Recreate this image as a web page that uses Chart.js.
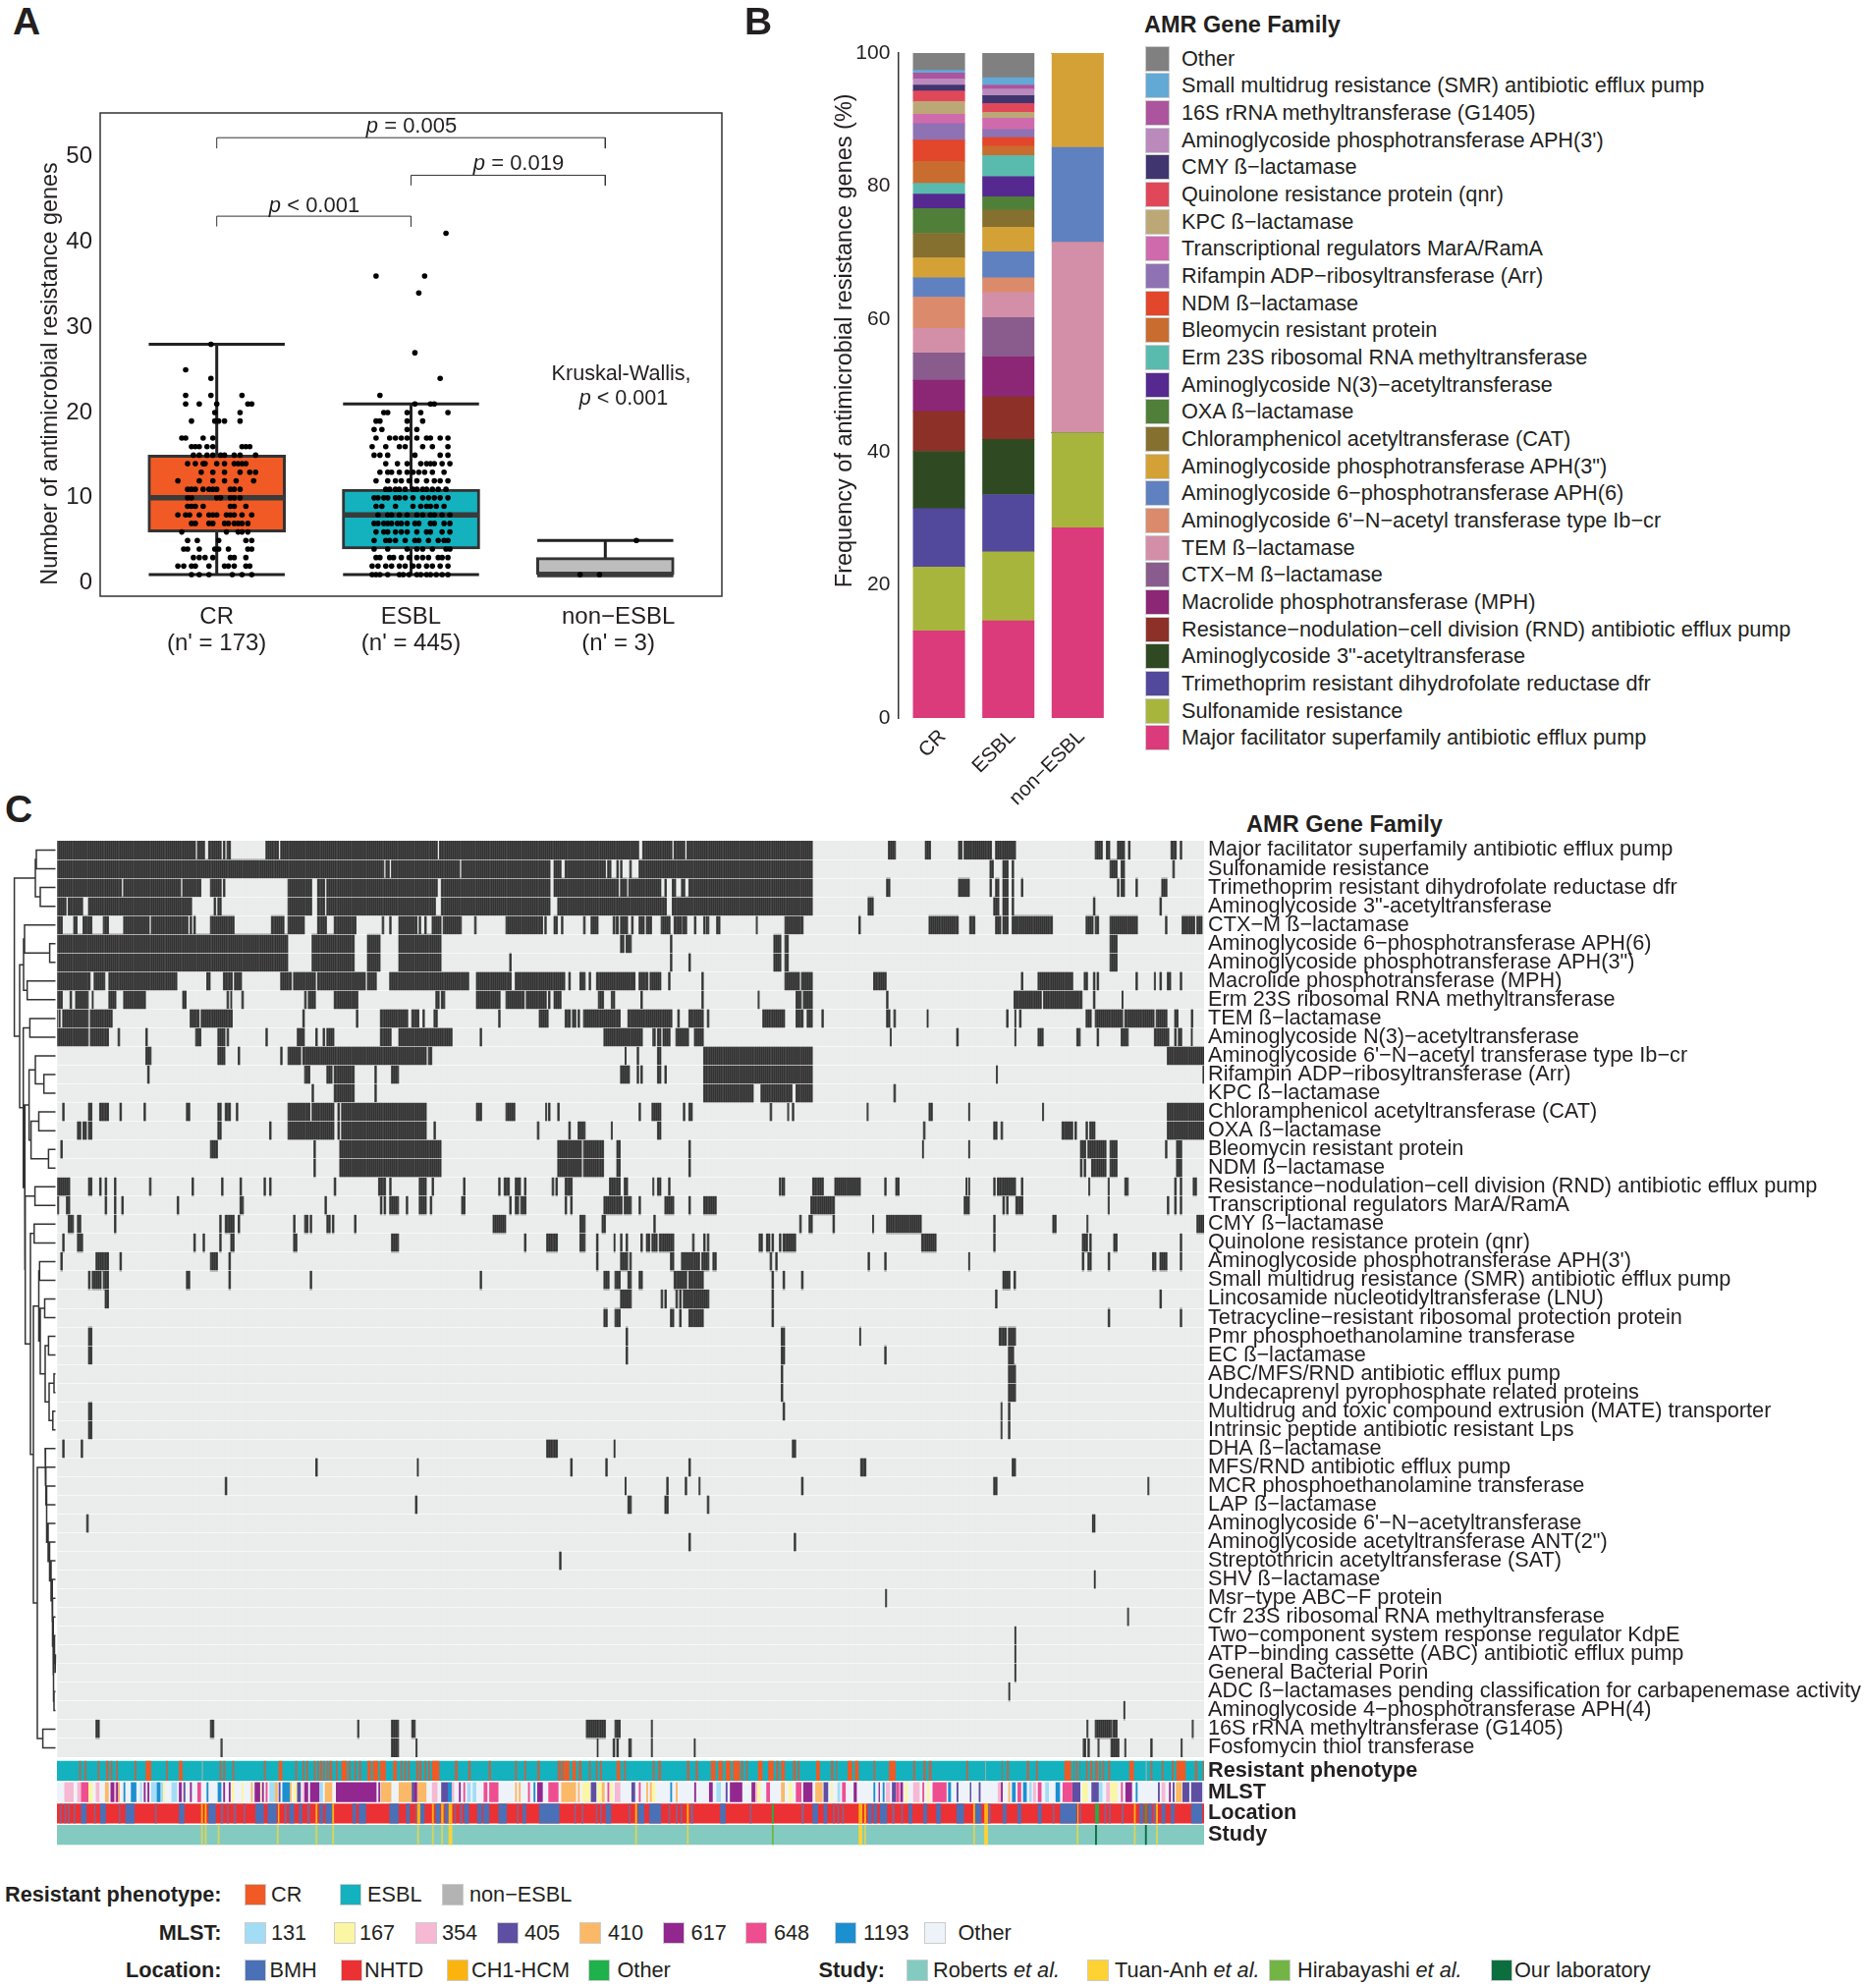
<!DOCTYPE html>
<html><head><meta charset="utf-8">
<script src="https://cdn.jsdelivr.net/npm/chart.js@4/dist/chart.umd.js"></script>
<style>
html,body{margin:0;padding:0;background:#fff;width:1902px;height:2024px;overflow:hidden;font-family:"Liberation Sans",Arial,sans-serif;color:#231f20}
canvas{position:absolute;display:block}
.t{position:absolute;white-space:nowrap;line-height:1}
.sw{position:absolute;box-sizing:border-box;border:1px solid #ccc}
</style></head><body>
<script>
/* ---------- Panel A data ---------- */
const phenotypes=["CR","ESBL","non\u2212ESBL"];
const phenotypeCounts=["(n' = 173)","(n' = 445)","(n' = 3)"];
const boxLow=[6,4,1], boxHigh=[15,11,3], boxMedian=[10,8,1], whiskerLow=[1,1,1], whiskerHigh=[28,21,5];
const boxColors=["#F15A24","#13B2BE","#BDBDBD"];
const dotsCR=[[28,[-3]],[25,[-16]],[24,[-3]],[22,[-16,-3,13]],[21,[-16,-9,0,16,18]],[20,[-1,12]],[19,[-13,-1,1,4,12]],[17,[-18,-16,-7,-2]],[16,[-13,-11,-9,-5,-2,13,15,17]],[15,[-12,-9,-5,-2,2,4,9,12,20]],[14,[-15,-11,-7,-6,0,4,9,11,13,15]],[13,[-8,-2,4,12,17,20]],[12,[-20,-9,-2,4,10,19]],[11,[-15,-13,-11,-7,-4,-2,0,7,9,12]],[10,[-15,-13,0,2,7,9,12]],[9,[-15,-13,-11,-7,7,9,15]],[8,[-20,-16,-14,-9,-4,-2,0,5,7,9,13,18]],[7,[-13,-11,-4,-2,4,6,9,11,13,16]],[6,[-18,5,11,13,16]],[5,[-15,-10,1,15,18]],[4,[-17,-15,-9,-1,1,6,16,18]],[3,[-12,-9,-6,-2,7,9,15]],[2,[-20,-17,-13,-11,-4,4,6,9,15,17]],[1,[-13,-9,-4,8,13,18]]];
const dotsESBL=[[41,[18]],[36,[-18,7]],[34,[4]],[27,[2]],[24,[15]],[22,[-16]],[21,[2,10,12]],[20,[-14,-12,-2,5,19]],[19,[-18,-16,-2,6]],[18,[-19,-15,-2,3]],[17,[-18,-11,-8,-5,-2,3,8,10,15,19]],[16,[-20,-13,-6,-3,6,11,19]],[15,[-19,-16,-12,2,15,19]],[14,[-13,-7,-2,5,8,10,12,16,20]],[13,[-16,-12,-10,-6,-2,1,4,7,11,17]],[12,[-18,-12,-8,-5,-1,3,8,12,15,19]],[11,[-13,-11,-8,-6,-3,1,3,6,8,11,14,18]],[10,[-19,-17,-14,-12,-8,-6,-3,1,6,9,12,15,19]],[9,[-18,-15,-8,1,5,8,10,13,17]],[8,[-17,-12,-10,-6,-2,3,6,10,12,16,20]],[7,[-19,-17,-14,-12,-10,-7,-5,-2,2,4,10,12,17,20]],[6,[-18,-14,-12,-8,-5,-2,3,8,10,16,20]],[5,[-19,-13,-11,-8,-3,2,4,9,14,17,19]],[4,[-19,-12,-2,3,6,11,18,20]],[3,[-18,-16,-11,-9,-5,-1,3,6,9,14,16,19]],[2,[-20,-17,-13,-10,-6,-3,1,4,8,11,15,19]],[1,[-20,-18,-16,-12,-6,-4,-1,3,5,8,10,13,16,19]]];
const dotsNon=[[5,[16]],[1,[-13,-3]]];
const bracketSpans=[[1,3,52.2,50.95],[2,3,47.8,46.6],[1,2,43,41.8]];

/* ---------- Panel B data ---------- */
const geneFamilies=["Major facilitator superfamily antibiotic efflux pump","Sulfonamide resistance","Trimethoprim resistant dihydrofolate reductase dfr","Aminoglycoside 3\"-acetyltransferase","Resistance\u2212nodulation\u2212cell division (RND) antibiotic efflux pump","Macrolide phosphotransferase (MPH)","CTX\u2212M \u00df\u2212lactamase","TEM \u00df\u2212lactamase","Aminoglycoside 6'\u2212N\u2212acetyl transferase type Ib\u2212cr","Aminoglycoside 6\u2212phosphotransferase APH(6)","Aminoglycoside phosphotransferase APH(3\")","Chloramphenicol acetyltransferase (CAT)","OXA \u00df\u2212lactamase","Aminoglycoside N(3)\u2212acetyltransferase","Erm 23S ribosomal RNA methyltransferase","Bleomycin resistant protein","NDM \u00df\u2212lactamase","Rifampin ADP\u2212ribosyltransferase (Arr)","Transcriptional regulators MarA/RamA","KPC \u00df\u2212lactamase","Quinolone resistance protein (qnr)","CMY \u00df\u2212lactamase","Aminoglycoside phosphotransferase APH(3')","16S rRNA methyltransferase (G1405)","Small multidrug resistance (SMR) antibiotic efflux pump","Other"];
const shareCR=[13.1,9.6,8.8,8.6,6.0,4.7,4.1,3.7,4.7,2.9,3.0,3.7,3.7,2.2,1.6,3.3,3.2,2.5,1.4,1.9,1.6,0.9,0.9,0.9,0.4,2.6];
const shareESBL=[14.6,10.4,8.6,8.3,6.4,6.0,5.9,3.8,2.2,3.9,3.7,2.6,2.0,3.0,3.2,1.4,1.3,1.2,1.7,0.9,1.3,1.2,1.0,0.6,1.1,3.7];
const shareNon=[28.6,14.3,0,0,0,0,0,28.6,0,14.3,14.2,0,0,0,0,0,0,0,0,0,0,0,0,0,0,0];
const geneColors=["#DB3A7B","#A8B53D","#52489C","#2F4A22","#8C3028","#8B2775","#8A5C8E","#D48FA8","#DB8B6C","#6081C0","#D4A136","#85702F","#4F7F38","#562990","#59BBAD","#C96C2F","#E2462B","#8F72B3","#CF6BAC","#BCA876","#E0485A","#41356F","#BB8ABD","#AC549E","#62A9D6","#808080"];

/* ---------- Panel C data: runs of samples carrying each gene family ---------- */
const heatLabels=["Major facilitator superfamily antibiotic efflux pump","Sulfonamide resistance","Trimethoprim resistant dihydrofolate reductase dfr","Aminoglycoside 3\"-acetyltransferase","CTX\u2212M \u00df\u2212lactamase","Aminoglycoside 6\u2212phosphotransferase APH(6)","Aminoglycoside phosphotransferase APH(3\")","Macrolide phosphotransferase (MPH)","Erm 23S ribosomal RNA methyltransferase","TEM \u00df\u2212lactamase","Aminoglycoside N(3)\u2212acetyltransferase","Aminoglycoside 6'\u2212N\u2212acetyl transferase type Ib\u2212cr","Rifampin ADP\u2212ribosyltransferase (Arr)","KPC \u00df\u2212lactamase","Chloramphenicol acetyltransferase (CAT)","OXA \u00df\u2212lactamase","Bleomycin resistant protein","NDM \u00df\u2212lactamase","Resistance\u2212nodulation\u2212cell division (RND) antibiotic efflux pump","Transcriptional regulators MarA/RamA","CMY \u00df\u2212lactamase","Quinolone resistance protein (qnr)","Aminoglycoside phosphotransferase APH(3')","Small multidrug resistance (SMR) antibiotic efflux pump","Lincosamide nucleotidyltransferase (LNU)","Tetracycline\u2212resistant ribosomal protection protein","Pmr phosphoethanolamine transferase","EC \u00df\u2212lactamase","ABC/MFS/RND antibiotic efflux pump","Undecaprenyl pyrophosphate related proteins","Multidrug and toxic compound extrusion (MATE) transporter","Intrinsic peptide antibiotic resistant Lps","DHA \u00df\u2212lactamase","MFS/RND antibiotic efflux pump","MCR phosphoethanolamine transferase","LAP \u00df\u2212lactamase","Aminoglycoside 6'\u2212N\u2212acetyltransferase","Aminoglycoside acetyltransferase ANT(2\")","Streptothricin acetyltransferase (SAT)","SHV \u00df\u2212lactamase","Msr\u2212type ABC\u2212F protein","Cfr 23S ribosomal RNA methyltransferase","Two\u2212component system response regulator KdpE","ATP\u2212binding cassette (ABC) antibiotic efflux pump","General Bacterial Porin","ADC \u00df\u2212lactamases pending classification for carbapenemase activity","Aminoglycoside 4\u2212phosphotransferase APH(4)","16S rRNA methyltransferase (G1405)","Fosfomycin thiol transferase"];
const r01=[[0,75],[76,80],[82,89],[90,91],[92,94],[113,120],[121,206],[207,315],[317,333],[334,340],[341,409],[450,454],[470,473],[488,490],[491,506],[508,519],[562,566],[568,570],[574,578],[580,581],[603,606],[608,609]];
const r02=[[0,177],[178,180],[181,218],[219,267],[269,273],[275,297],[298,300],[303,304],[305,306],[310,311],[315,409],[505,507],[512,515],[517,518],[570,574],[576,578],[604,605]];
const r03=[[0,35],[36,67],[68,78],[83,89],[90,91],[125,138],[141,145],[146,206],[208,267],[269,304],[305,308.5],[309.5,327],[329,330],[333,335],[338,340],[342,409],[449,451],[488,494],[505,506],[508,510],[512,515],[517,518],[522,523],[574,575],[576,578],[584,585],[598,601]];
const r04=[[0,5],[6,14],[17,73],[85,86],[87,89],[125,138],[141,145],[146,205],[208,267],[271,330],[333,409],[439,442],[507,510],[512,515],[517,518],[561,562],[597,598]];
const r05=[[0,3],[9,11],[14,19],[25,28],[36,50],[51,71],[72,73],[74,75],[83,96],[116,123],[125,134],[141,146],[150,162],[176,177],[180,181],[185,195],[196,197],[199,200],[203,208],[209,219],[226,227],[243,263],[264,265],[269,271],[273,274],[285,286],[289,293],[301,302],[302.5,304],[305,309],[311,312],[315,318],[319,322],[327,332],[334,338],[338.5,341],[345,346],[350,351],[351.5,353],[357,359],[378.5,379.2],[394,404],[434,435],[472,488],[494,497],[508,511],[512,515],[517,539],[557,561],[562,564],[570,585],[600,601],[609,616],[617,620]];
const r06=[[0,125],[138,161],[168,175],[185,208],[305,307],[308,311],[332,333],[388,392],[394,396],[570,574]];
const r07=[[0,125],[138,161],[168,175],[185,208],[245,246],[332,333],[342,343],[388,392],[394,396],[570,574]];
const r08=[[0,18],[20,26],[28,65],[81,83],[90,95],[96,100],[121,127],[128,140],[141,167],[168,173],[180,223],[227,246],[248,275],[277,278],[283,286],[288,289],[292,313],[315,320],[321,327],[331,332],[349,350],[394,402],[403,409],[442,449],[522,523],[531,550],[556,558],[561,562],[563,564],[584,585],[594,594.7],[597,598],[601,603],[608,609]];
const r09=[[0,3],[7,8],[10,17],[19,19.7],[28,32],[36,48],[68,70],[92,93],[94,94.7],[100,101],[134,135],[136,140],[150,163],[205,207],[208,210],[227,240],[243,253],[254,265],[266,267],[269,273],[293,296],[300,300.7],[301,302],[316,317],[349,350],[379.5,380.2],[400,403],[404,409],[449,450],[518,533],[534,555],[561,562],[576.5,577.2]];
const r10=[[0,0.6],[1.2,1.8],[3,17],[18,30],[72,77],[78,95],[133,134],[162,163],[175,190],[192,196],[198,199],[204,206],[239,240],[261,266],[275,278],[279,281],[282,283],[285,305],[309,333],[336,337],[342,350],[352,353],[382,394],[400,404],[406,409],[414,415],[449,451],[453,454],[471,471.7],[514,515],[518.5,519.2],[521,522],[557,560],[562,577],[578,594],[595,601],[605,607],[614,615]];
const r11=[[0,17],[18,28],[33,34],[48,49],[75,78],[87,91],[92,93],[113,114],[130,134],[140,141],[144,145],[146,150],[175,181],[185,214],[229,230],[296,317],[322.5,324],[325,327],[328,332],[335,342],[345,350],[451,451.7],[487,488],[518.5,519.2],[531,534],[552,554],[563,564],[576,580],[594,602],[605,606],[607,609],[614,614.7]];
const r12=[[48,51],[87,91],[98,99],[121,122],[125,132],[133,200],[201,203],[307.5,308.2],[314,315],[325,327],[350,409],[601,621]];
const r13=[[49,50],[134,137],[146,149],[150,161],[172,173],[181,185],[305,310],[314,315],[316,317],[325,327],[329,330],[350,409],[508.5,509.2],[620.3,621]];
const r14=[[138,139],[150,161],[172,173],[350,377],[381,398],[400,409],[453,454]];
const r15=[[3,4],[17,19],[23,28],[34,35],[47,48],[70,72],[87,89],[91,94],[97,98],[125,137],[138,150],[152,153],[154,200],[227,230],[243,248],[264.5,265.2],[266,267],[271,272],[315,316],[322,327],[339,340],[342,344],[386,387],[395.5,396.2],[398,399],[438.5,439.2],[472,474],[493.5,494.2],[533.5,534.2],[601,621]];
const r16=[[11,13],[14,16],[17,19],[87,89],[115,116],[125,150],[152,153],[154,200],[204,205],[260,261],[277,278],[282,286],[300,300.7],[325,327],[469,470],[507,509],[511,512],[544,550],[551,552],[557,558],[559,562],[601,621]];
const r17=[[2,3],[83,87],[139,140],[153,208],[271,284],[285,296],[303,305],[342,343],[468.5,469.2],[493.5,494.2],[554,557],[558,568],[570,574],[600,601],[606,609]];
const r18=[[139,140],[153,208],[271,284],[285,296],[303,305],[342,343],[554,555],[556,557],[560,568],[570,574],[606,609]];
const r19=[[0,7],[17,19],[23,24],[26,27],[31,32],[50,51],[73,74],[89,90],[99,100],[112,113],[115,116],[150,151],[174,178],[180,181],[196,200],[203,204],[220,221],[239,240],[242,245],[248,251],[253,254],[268,269],[270,271],[275,279],[299,305],[307,309],[322.5,323.2],[325,327],[331,332],[391,392],[392.5,394],[409,415],[421,435],[448,449],[454,456],[492,492.7],[493.5,494.2],[507,508],[509,519],[522,523],[558.5,559.2],[569,569.7],[578,580],[605,606],[608,609],[615,617]];
const r20=[[0,1],[5,7],[26,27],[31,32],[35,36],[65,66],[99,101],[145,146],[175,176],[177,178],[180,185],[189,190],[196,200],[202,203],[219,221],[245,246],[248,250],[251,254],[275,276],[278,279],[296,306],[307,311],[315,316],[329,334],[342,343],[350,357],[408,421],[491,494],[512,513],[514,515],[519,523],[569,569.7],[601,602],[605,606],[608,609]];
const r21=[[6,9],[11,13],[31,32],[88,89],[91,96],[98,99],[128,129],[134,136],[137,138],[146,148],[149,150],[161,162],[236,243],[283,286],[295,297],[323,324],[402,403],[407,409],[420,421],[441.5,442.2],[449,468],[507,508],[539,541],[557.5,558.2],[617,621]];
const r22=[[3,4],[11,14],[74,75],[79,80],[88,89],[94,96],[128,130],[181,185],[253,254],[265,271],[283,286],[292,293],[301.5,302.2],[305,306],[308,309],[316,317],[319,321],[322,325],[326,334],[344,345],[350,351],[352,353],[380,382],[384,386],[387,388],[391,392],[393,400],[468,476],[507,508],[555,558],[559,560],[572,574],[608,609]];
const r23=[[2,3],[21,28],[34,35],[83,87],[93,94],[292,293],[305,309],[310,311],[332,334],[338,348],[349,353],[355,357],[386,387],[389,390],[439,440],[448,449],[493.5,494.2],[555,556],[558,560],[569,570],[593,595],[597,601],[608,609]];
const r24=[[17,18],[19,24],[25,28],[70,72],[93,94],[137,138],[229,230],[296,299],[302,305],[309,311],[315,317],[334,341],[342,350],[387,388],[393,394],[403,404],[512,516],[518,519]];
const r25=[[26,28],[305,311],[327,328],[329,330],[335,336],[337,338],[339,353],[387,388],[508,509],[597,598]];
const r26=[[296,298],[302,305],[332,334],[337,338],[342,350],[387,388],[569,570],[608,609]];
const r27=[[17,19],[308,309],[392,394],[434.5,435.2],[510,514],[515,519]];
const r28=[[17,19],[308,309],[392,394],[448,449],[515,518]];
const r29=[[392,393],[515,519]];
const r30=[[392,393],[515,519]];
const r31=[[17,19],[393,394],[511,511.7],[515,516]];
const r32=[[17,19],[511,511.7],[515,516]];
const r33=[[3,4],[13,14],[265,271],[301.5,302.2],[398,400]];
const r34=[[140,141],[195,195.7],[278,279],[297,298],[342,343],[435,438],[517,519]];
const r35=[[91,92],[307.5,308.2],[330,331],[340,341],[347.5,348.2],[403,404],[507,509],[590.5,591.2]];
const r36=[[194,195],[309,311],[329,331],[352,353]];
const r37=[[16,17],[560.5,562]];
const r38=[[342,343],[399,400]];
const r39=[[272,273]];
const r40=[[561.5,562.2]];
const r41=[[448.5,449.2]];
const r42=[[579.5,580.2]];
const r43=[[518.5,519.2]];
const r44=[[518.5,519.2]];
const r45=[[518.5,519.2]];
const r46=[[515.2,515.9]];
const r47=[[577.5,578.2]];
const r48=[[21,23],[83,85],[162.7,163.5],[181,185],[192,194],[286.5,297],[302,305],[321.7,322.4],[557.5,558.2],[562,571],[571.5,574],[614.5,615.2]];
const r49=[[88.7,89.5],[181,185],[194.3,195],[292.4,293],[301,302],[303,304],[309.5,311],[321.7,322.4],[344.9,345.6],[555.5,557],[558,559],[563.5,564.2],[570.5,575],[578,578.7],[592,593],[608.5,609.2]];
const heatRuns=[r01,r02,r03,r04,r05,r06,r07,r08,r09,r10,r11,r12,r13,r14,r15,r16,r17,r18,r19,r20,r21,r22,r23,r24,r25,r26,r27,r28,r29,r30,r31,r32,r33,r34,r35,r36,r37,r38,r39,r40,r41,r42,r43,r44,r45,r46,r47,r48,r49];
const sampleCount=621;

/* dendrogram merges: id, left child, right child, height */
const dendroMerges=[["a12",1,2,20],["a34",3,4,16],["A","a12","a34",21],["a67",6,7,6.4],["a567",5,"a67",32],["a89",8,9,29.3],["C","a567","a89",33],["a1011",10,11,26.6],["a1314",13,14,12.3],["D",12,"a1314",21],["a1516",15,16,17.5],["a1718",17,18,7.6],["E","a1516","a1718",25.4],["F","D","E",27.4],["a1920",19,20,21.4],["a2122",21,22,22.2],["a2324",23,24,16.7],["a2526",25,26,11.5],["a2728",27,28,7.6],["a2930",29,30,2],["a3132",31,32,3.2],["G","a2930","a3132",7],["H","a2728","G",11],["I","a2526","H",16],["J","a2324","I",17.5],["b4445",44,45,1],["b4345",43,"b4445",1.5],["b4647",46,47,2],["b43","b4345","b4647",2.5],["k42",42,"b43",3],["k41",41,"k42",3.5],["k40",40,"k41",4],["k39",39,"k40",5],["k38",38,"k39",6.5],["k37",37,"k38",8],["k36",36,"k37",9.5],["k35",35,"k36",9.5],["k34",34,"k35",10.3],["k33",33,"k34",11],["a4849",48,49,13.4],["P","k33","a4849",19],["T","J","P",23],["Q","a2122","T",26],["S","a1920","Q",31.3],["U","F","S",32],["V","a1011","U",33.3],["W","C","V",37],["X","A","W",42.4]];

/* ---------- Annotation tracks ---------- */
const trackLabels=["Resistant phenotype","MLST","Location","Study"];
const phenoCR=[[12,13],[15,16],[22,23],[26.5,28],[29,30],[32,33],[42,43],[48,51],[59,60],[66,68],[88,89],[90,91],[95,96],[112,113],[120,122],[129,130],[133,134],[135,136],[139,140],[141,142],[142.5,143.5],[144,145],[146,147],[147.5,149],[151,152],[154,157],[158,159],[161,162],[163.4,164.6],[168,170],[171,174],[175,178],[182,184],[186,187],[188,189],[190,191],[194.4,195.6],[196,197.4],[199,200],[201,202],[203,207],[215.4,217],[222.7,224],[233.7,235],[248,249],[253,254],[260,261.4],[271,272.7],[273,274.5],[274.6,277.4],[279,281],[282.4,284],[288,289],[291.7,292.7],[294,295],[303,305],[307,308],[322.5,323.6],[325.5,327],[341,342.4],[345.7,347],[354,356.5],[358,360.4],[362,364.7],[366,369.6],[370.3,371.4],[373,374],[379.5,382],[385,388],[389.3,390.6],[392,394],[398.4,400],[401,402],[411,413],[419,420.3],[421.7,422.4],[428,430.6],[432,434],[442,443],[450.4,454],[463.5,464.6],[469,470.3],[472,473.5],[492.3,493.3],[511.4,512],[514.2,515.3],[525,526.3],[530,531],[545.4,549],[550.4,551],[551.8,552.5],[553.5,554],[557,558],[559.2,560.6],[562,563.5],[564.2,565],[566,567],[569,570.2],[580.5,583],[592,593],[598,599],[603.5,604.6],[606,611],[616,617.4],[620.3,621]];
const phenoNon=[[78.4,79],[502.5,503],[589.4,590]];
const mlst131=[[45,46],[51,54],[56,57.4],[62,65],[115,118],[142,144],[222,224],[225,227],[357,359.4],[422.5,424],[526.3,527.7],[535,537],[564.2,566]];
const mlst167=[[17,19.3],[57.4,58.5],[94.5,96],[100,101],[110.3,111],[128,130],[284.5,288.6],[292.5,295],[299.5,301],[322,324],[379,381],[396,398],[419,420],[459,460.5],[471,472.4],[555,558],[570.2,574]];
const mlst354=[[4,9],[11,13],[21,23],[31,32],[68,69],[133,134],[203,206],[213.7,215],[302,305],[378,379],[448.7,451],[463.5,467],[509.3,511],[528.4,530],[568,570],[598,600]];
const mlst405=[[68.6,69.5],[120,121],[130,132],[192,193.5],[208,211.6],[289,292],[311,313],[362,363],[415,417.5],[452,454.3],[487,488],[494.2,495],[499,500],[549.7,554],[560,564],[596,597],[604,605],[609.3,613],[614,620]];
const mlst410=[[26,28],[33,34],[105,106],[118,119.5],[126,127],[145,149],[175.4,181],[185,192],[195,200],[248,249],[250,251],[273,281],[282,283],[295,296.5],[319,320],[321,322],[335,336],[392,394],[410.5,414.5],[515,516],[605.7,609]];
const mlst617=[[29,31],[32,33],[47,48],[49,50],[66,67.5],[72,73],[90,91],[93,94],[107,110],[111,112],[134,136],[137,142],[151,173],[174,175],[193.5,195],[217.6,218.6],[260,263],[345,346],[353,355],[364.3,371],[376,378],[404,409],[431.3,433],[444.8,445.5],[456.5,458],[511,512],[578.4,582],[602,603]];
const mlst648=[[13,17],[76,78],[113,114],[220,221],[231,233],[234,239],[255,256],[266,271.5],[298,299],[315,316],[384,386],[400,403],[425,427],[454.3,456],[468.5,469.5],[474,481.6],[520,522],[531,533],[544.4,549.7],[576,577]];
const mlst1193=[[36,37],[40,43],[54,56],[81,82],[87,89],[122,126],[211.6,213.7],[258,259],[332,333],[442,443],[447,448],[482.4,484],[517,519],[523,525],[540.6,543],[584,585]];
const locBMH=[[1.5,2.5],[4,5],[6,7],[9,10],[13,16],[20,21],[23.4,26.5],[33.5,34.4],[37,42],[53,54],[66,69],[82,86],[88.6,90],[92,93],[95.6,97],[101,102],[107.4,112],[114,119],[123,124.4],[125.7,128.4],[131,132.7],[135.4,137],[142,144],[145.3,149],[160,162],[163.4,167.3],[180,185],[189,191],[194,195],[196.7,199],[205,207.6],[210,212],[215,216],[218,219.5],[220.4,223],[227.5,230],[230.7,234],[239,243.5],[249,250],[252,254],[261,272],[280,281],[284,285],[291.7,292.6],[294,295],[297,300],[309.4,310.4],[314.4,318],[320.6,327],[331,332],[335,336],[337.5,338.5],[343,344.5],[359,362],[375,376],[403,404.4],[409,412],[415,417],[420,421],[422.5,423.5],[425,426],[439,441],[442,444],[445.5,449.4],[452,453.5],[457,458],[461,463],[469,471],[476,478.5],[487,491],[497,500.4],[504,505.5],[512,514],[520,522],[531,533],[539,540],[543,552],[553.5,554.5],[567,568],[569.5,570.5],[576.3,577.4],[586,588],[590.8,592.6],[593.5,595],[598,600],[603,605],[614,620]];
const locCH1=[[78,79],[80,81],[119.6,120.4],[140,141],[149,150],[195,196.7],[203,204],[208,209.3],[212,214],[313,314],[341,342],[434,436],[437,438],[496,497],[502,504],[552.4,553],[583,584],[595,596]];
const locOther=[[387,388],[562,564],[589,590]];
const studyTuanAnh=[[78,79],[80,81],[87,88],[119,120],[140,141],[149,150],[195,196],[203,204],[208,209],[212,214],[313,314],[341,342],[434,436],[437,438],[496,497],[502,504],[552,553],[583,584],[595,596]];
const studyHirabayashi=[[387,388]];
const studyOurLab=[[562,563],[589,590]];

/* ---------- Colours ---------- */
const mlstNames=["131","167","354","405","410","617","648","1193","Other"];
const mlstColors=["#A3DCF5","#FBF6A3","#F6B8D2","#5E4FA2","#FBB867","#92278F","#EE4D90","#1C8FD1","#EEF3F9"];
const ink="#231f20", dark="#333333";
const FONT='"Liberation Sans", Arial, sans-serif';
Chart.defaults.font.family=FONT;
Chart.defaults.color=ink;
Chart.defaults.animation=false;

function canvas(l,t,w,h){const c=document.createElement('canvas');c.width=w;c.height=h;c.style.left=l+'px';c.style.top=t+'px';c.style.width=w+'px';c.style.height=h+'px';document.body.appendChild(c);return c;}
function label(html,x,y,opt={}){const d=document.createElement('div');d.className='t';d.innerHTML=html;d.style.left=x+'px';d.style.top=y+'px';d.style.fontSize=(opt.size||21)+'px';if(opt.bold)d.style.fontWeight='bold';
  const tx=opt.align==='center'?'-50%':opt.align==='right'?'-100%':'0';d.style.transform=`translate(${tx},-50%)`;document.body.appendChild(d);return d;}
function swatch(x,y,w,h,c){const d=document.createElement('div');d.className='sw';d.style.cssText+=`left:${x}px;top:${y}px;width:${w}px;height:${h}px;background:${c}`;document.body.appendChild(d);}
const frame={id:'frame',afterDatasetsDraw(ch){const a=ch.chartArea,x=ch.ctx;x.save();x.strokeStyle='#333';x.lineWidth=1.5;x.strokeRect(a.left,a.top,a.right-a.left,a.bottom-a.top);x.restore();}};
const NOLEGEND={legend:{display:false},tooltip:{enabled:false}};
const noPad=s=>{s.paddingTop=0;s.paddingBottom=0;s.paddingLeft=0;s.paddingRight=0;};
const fixW=w=>s=>{s.width=w;noPad(s);};
const fixH=h=>s=>{s.height=h;noPad(s);};

/* ---------- Panel A ---------- */
function segs(list){const o=[];list.forEach(s=>{s.forEach(p=>o.push({x:p[0],y:p[1]}));o.push({x:NaN,y:NaN});});return o;}
const capW=0.35;
const whisk=segs(whiskerLow.flatMap((lo,i)=>{const c=i+1;return [[[c,lo],[c,whiskerHigh[i]]],[[c-capW,lo],[c+capW,lo]],[[c-capW,whiskerHigh[i]],[c+capW,whiskerHigh[i]]]];}));
const med=segs(boxMedian.map((m,i)=>[[i+1-capW,m],[i+1+capW,m]]));
const brk=segs(bracketSpans.map(b=>[[b[0],b[3]],[b[0],b[2]],[b[1],b[2]],[b[1],b[3]]]));
const dots=[];[dotsCR,dotsESBL,dotsNon].forEach((g,i)=>g.forEach(([y,xs])=>xs.forEach(o=>dots.push({x:i+1+o/100,y}))));
new Chart(canvas(0,100,760,580),{type:'bar',plugins:[frame],data:{datasets:[
 {type:'scatter',data:dots,pointRadius:2.8,backgroundColor:'#000',borderWidth:0,order:0},
 {type:'scatter',data:med,showLine:true,borderColor:'#3a3a3a',borderWidth:5.5,pointRadius:0,spanGaps:false,borderCapStyle:'butt',order:1},
 {type:'bar',data:boxLow.map((l,i)=>({x:i+1,y:[l,boxHigh[i]]})),backgroundColor:boxColors,borderColor:'#333',borderWidth:3,barThickness:140,borderSkipped:false,order:2},
 {type:'scatter',data:whisk,showLine:true,borderColor:'#222',borderWidth:3,pointRadius:0,spanGaps:false,order:3},
 {type:'scatter',data:brk,showLine:true,borderColor:'#333',borderWidth:1,pointRadius:0,spanGaps:false,order:4}
]},options:{responsive:false,layout:{padding:{top:15,right:25,left:0,bottom:0}},plugins:NOLEGEND,scales:{
 x:{type:'linear',offset:false,min:0.4,max:3.6,afterBuildTicks:s=>{s.ticks=[1,2,3].map(v=>({value:v}));},afterFit:fixH(73),grid:{display:false,drawTicks:true,tickLength:6,tickColor:'#333',tickWidth:1.5},border:{display:false},
    ticks:{padding:2,font:{size:24,lineHeight:1.13},color:ink,maxRotation:0,autoSkip:false,callback:v=>[(v===3?'    ':'')+phenotypes[v-1],(v===3?'    ':'')+phenotypeCounts[v-1]]}},
 y:{type:'linear',min:-1.53,max:55.1,afterBuildTicks:s=>{s.ticks=[0,10,20,30,40,50].map(v=>({value:v}));},afterFit:fixW(102),grid:{display:false,tickLength:6,tickColor:'#333',tickWidth:1.5},border:{display:false},
    ticks:{padding:2,font:{size:24},color:ink},title:{display:true,text:'Number of antimicrobial resistance genes      ',font:{size:23.4},color:ink,padding:{top:38,bottom:0}}}
}}});
label('<i>p</i> = 0.005',419,128,{align:'center',size:22});
label('<i>p</i> = 0.019',528,166,{align:'center',size:22});
label('<i>p</i> &lt; 0.001',320,208.5,{align:'center',size:22});
label('Kruskal-Wallis,',632.6,379.5,{align:'center',size:21.6});
label('<i>p</i> &lt; 0.001',635,405,{align:'center',size:21.6});

/* ---------- Panel B ---------- */
new Chart(canvas(780,30,380,800),{type:'bar',data:{datasets:geneFamilies.map((g,i)=>({label:g,backgroundColor:geneColors[i],barThickness:52.4,stack:'s',
   data:[shareCR[i],shareESBL[i],shareNon[i]].map((v,k)=>({x:k+1,y:v}))}))},
 options:{responsive:false,layout:{padding:{top:24,right:21,left:0,bottom:0}},plugins:NOLEGEND,scales:{
 x:{type:'linear',stacked:true,offset:false,min:0.41,max:3.59,afterBuildTicks:s=>{s.ticks=[1,2,3].map(v=>({value:v}));},afterFit:fixH(99),grid:{display:false,tickLength:5,tickColor:'#333',tickWidth:1.5},border:{display:false},
   ticks:{padding:2,labelOffset:4,font:{size:20.5},color:ink,minRotation:45,maxRotation:45,autoSkip:false,callback:v=>phenotypes[v-1]}},
 y:{type:'linear',stacked:true,min:0,max:100,afterBuildTicks:s=>{s.ticks=[0,20,40,60,80,100].map(v=>({value:v}));},afterFit:fixW(134.4),grid:{display:false,tickLength:6,tickColor:'#333',tickWidth:1.5},border:{display:true,color:'#333',width:1.5},
   ticks:{padding:2,font:{size:21},color:ink},title:{display:true,text:'              Frequency of antimicrobial resistance genes (%)',font:{size:23.5},color:ink,padding:{top:66,bottom:0}}}
}}});
label('AMR Gene Family',1165,25.5,{bold:true,size:23.5});
geneFamilies.slice().reverse().forEach((g,i)=>{const y=59.7+i*27.67,c=geneColors[geneFamilies.length-1-i];swatch(1166,y-13,25,26,c);label(g,1203,y,{size:21.7});});

/* ---------- Panel C heatmap ---------- */
function layers(rows){const n=Math.max(...rows.map(r=>r.length));const ds=[];for(let k=0;k<n;k++){ds.push({data:rows.map(r=>r[k]?[r[k][0],r[k][1]]:null),backgroundColor:rows.map(r=>r[k]?r[k][2]:'transparent'),grouped:false,barPercentage:1,categoryPercentage:1,borderWidth:0,borderSkipped:false,order:-k});}return ds;}
const heatRows=heatRuns.map(rs=>[[0,sampleCount,'#EAECEC'],...rs.map(r=>[r[0],r[1],'#333333'])]);
new Chart(canvas(58,856,1844,933),{type:'bar',data:{labels:heatLabels,datasets:layers(heatRows)},options:{indexAxis:'y',responsive:false,layout:{padding:0},plugins:NOLEGEND,scales:{
 x:{type:'linear',min:0,max:sampleCount,afterFit:fixH(0),border:{display:false},grid:{z:1,color:'rgba(255,255,255,0.09)',lineWidth:1,drawTicks:false},ticks:{display:false,stepSize:1,autoSkip:false}},
 y:{type:'category',position:'right',afterFit:fixW(676),border:{display:false},grid:{z:2,offset:true,color:'rgba(255,255,255,0.6)',lineWidth:1,drawTicks:false},ticks:{padding:4,font:{size:21.7},color:ink,autoSkip:false}}
}}});
label('AMR Gene Family',1369,840,{align:'center',bold:true,size:23.5});

/* dendrogram */
(function(){const pos={};for(let i=1;i<=49;i++)pos[i]={y:i-1,h:0.5};const pts=[];dendroMerges.forEach(([id,a,b,h])=>{const A=pos[a],B=pos[b];pts.push({x:A.h,y:A.y},{x:h,y:A.y},{x:h,y:B.y},{x:B.h,y:B.y},{x:NaN,y:NaN});pos[id]={y:(A.y+B.y)/2,h};});
new Chart(canvas(0,856,58,933),{type:'scatter',data:{datasets:[{data:pts,showLine:true,spanGaps:false,borderColor:'#333',borderWidth:1.5,pointRadius:0}]},options:{responsive:false,layout:{padding:0},plugins:NOLEGEND,scales:{x:{type:'linear',display:false,reverse:true,min:-1,max:57},y:{type:'linear',display:false,reverse:true,min:-0.5,max:48.5}}}});})();

/* annotation tracks */
const CRc=(s,e)=>e-s<1.9?'#B8694A':'#F15A24', BMHc=(s,e)=>e-s<1.6?'#8C5F8C':'#4A70B7', TAc=(s,e)=>e-s<1.6?'#DBD35A':'#FFD233';
const tag=(runs,col)=>runs.map(r=>[r[0],r[1],typeof col==='function'?col(r[0],r[1]):col]);
const trackRows=[
 [[0,sampleCount,'#13B2BE'],...tag(phenoCR,CRc),...tag(phenoNon,'#A9ADAD')],
 [[0,sampleCount,mlstColors[8]],...[mlst131,mlst167,mlst354,mlst405,mlst410,mlst617,mlst648,mlst1193].flatMap((m,i)=>tag(m,mlstColors[i]))],
 [[0,sampleCount,'#EB3133'],...tag(locBMH,BMHc),...tag(locCH1,'#FBB40F'),...tag(locOther,'#1FB14B')],
 [[0,sampleCount,'#83CBC0'],...tag(studyTuanAnh,TAc),...tag(studyHirabayashi,'#72B545'),...tag(studyOurLab,'#0C6E3F')]
];
const trackDs=layers(trackRows);trackDs.forEach(d=>{d.barPercentage=0.93;});
new Chart(canvas(58,1792,1844,87),{type:'bar',data:{labels:trackLabels,datasets:trackDs},options:{indexAxis:'y',responsive:false,layout:{padding:0},plugins:NOLEGEND,scales:{
 x:{type:'linear',min:0,max:sampleCount,display:false},
 y:{type:'category',position:'right',afterFit:fixW(676),border:{display:false},grid:{display:false,drawTicks:false},ticks:{padding:4,font:{size:21.7,weight:'bold'},color:ink,autoSkip:false}}
}}});

/* bottom legends */
const S=21.7;
function leg(y,name,x,items){label(name,x,y,{bold:true,size:S,align:'right'});items.forEach(([sx,tx,c,t])=>{swatch(sx,y-11,22,22,c);label(t,tx,y,{size:S});});}
leg(1929,'Resistant phenotype:',225.5,[[249,276,'#F15A24','CR'],[345.5,374,'#13B2BE','ESBL'],[450,478,'#B3B3B3','non\u2212ESBL']]);
const mlstSw=[249,340,422.5,505.5,590,674.5,759,850,940.6], mlstTx=[276,366,450,534,619,703.6,788,879,975.5];
leg(1968,'MLST:',225.5,mlstNames.map((n,i)=>[mlstSw[i],mlstTx[i],mlstColors[i],n]));
leg(2006,'Location:',225.5,[[249,274.5,'#4A70B7','BMH'],[347,371,'#EB3133','NHTD'],[454.5,480,'#FBB40F','CH1-HCM'],[599,628.5,'#1FB14B','Other']]);
leg(2006,'Study:',901,[[923,950,'#83CBC0','Roberts <i>et al.</i>'],[1106.6,1135,'#FFD233','Tuan-Anh <i>et al.</i>'],[1292,1321,'#72B545','Hirabayashi <i>et al.</i>'],[1517.7,1542,'#0C6E3F','Our laboratory']]);

/* panel letters */
label('A',13,21,{bold:true,size:39});
label('B',758,21,{bold:true,size:39});
label('C',5,823,{bold:true,size:39});
</script>
</body></html>
